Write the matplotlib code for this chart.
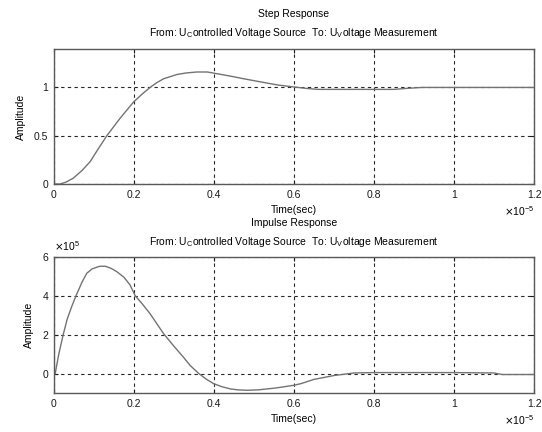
import matplotlib
matplotlib.use("Agg")
import matplotlib.pyplot as plt
from matplotlib.ticker import FormatStrFormatter

plt.rcParams['font.family'] = ['Liberation Sans', 'DejaVu Sans']
plt.rcParams['font.size'] = 7.5

# time axis in units of 1e-5 s
step_t = [0, 0.015, 0.03, 0.048, 0.07, 0.09, 0.11, 0.132, 0.165, 0.199, 0.22,
          0.24, 0.257, 0.274, 0.307, 0.33, 0.357, 0.383, 0.424, 0.45, 0.474,
          0.5, 0.533, 0.56, 0.59, 0.63, 0.66, 0.75, 0.85, 0.88, 0.92, 1.0, 1.2]
step_v = [0, 0.0, 0.02, 0.06, 0.14, 0.23, 0.36, 0.5, 0.68, 0.85, 0.93,
          1.0, 1.05, 1.09, 1.134, 1.15, 1.16, 1.16, 1.13, 1.11, 1.09,
          1.07, 1.045, 1.025, 1.01, 0.99, 0.98, 0.98, 0.98, 0.99, 1.0, 1.0, 1.0]

# impulse amplitude in units of 1e5
imp_t = [0, 0.003, 0.012, 0.023, 0.033, 0.044, 0.055, 0.07, 0.082, 0.095,
         0.107, 0.115, 0.128, 0.142, 0.157, 0.175, 0.19, 0.203, 0.22, 0.24,
         0.274, 0.3, 0.324, 0.34, 0.362, 0.38, 0.399, 0.42, 0.441, 0.46,
         0.483, 0.51, 0.533, 0.555, 0.575, 0.6, 0.617, 0.65, 0.7, 0.75, 0.8,
         1.0, 1.1, 1.12, 1.2]
imp_v = [0, 0, 1.0, 2.0, 2.8, 3.43, 4.0, 4.7, 5.16, 5.38,
         5.47, 5.52, 5.52, 5.42, 5.24, 4.95, 4.56, 4.0, 3.6, 3.08,
         2.05, 1.4, 0.83, 0.42, 0.0, -0.28, -0.52, -0.68, -0.79, -0.84,
         -0.86, -0.84, -0.79, -0.74, -0.68, -0.6, -0.52, -0.3, -0.1, 0.03, 0.05,
         0.05, 0.03, -0.05, -0.05]

xticks = [0, 0.2, 0.4, 0.6, 0.8, 1, 1.2]
subtitle = "From: U$_{\\mathregular{C}}$ontrolled Voltage Source  To: U$_{\\mathregular{V}}$oltage Measurement"

fig = plt.figure(figsize=(5.42, 4.32), dpi=100)
ax1 = fig.add_axes([0.0996, 0.574, 0.886, 0.313])
ax2 = fig.add_axes([0.0996, 0.0903, 0.886, 0.315])


def style(ax):
    ax.set_xlim(0, 1.2)
    ax.set_xticks(xticks)
    ax.xaxis.set_major_formatter(FormatStrFormatter('%g'))
    ax.yaxis.set_major_formatter(FormatStrFormatter('%g'))
    ax.grid(True, color='0.15', linestyle=(0, (3, 3)), linewidth=0.8)
    ax.tick_params(direction='in', length=3, top=True, right=True,
                   pad=4, colors='0.1')
    for s in ax.spines.values():
        s.set_color('0.35')
        s.set_linewidth(1.0)
    ax.set_xlabel('Time(sec)', labelpad=4)
    ax.set_ylabel('Amplitude', labelpad=6)
    ax.text(1.0, -0.2, '$\\times\\mathregular{10^{-5}}$', transform=ax.transAxes,
            ha='right', va='center')


ax1.plot(step_t, step_v, color='0.45', linewidth=1.0)
style(ax1)
ax1.set_ylim(0, 1.4)
ax1.set_yticks([0, 0.5, 1])
fig.text(0.542, 0.968, 'Step Response', ha='center', va='center')
fig.text(0.542, 0.924, subtitle, ha='center', va='center')

ax2.plot(imp_t, imp_v, color='0.45', linewidth=1.0)
style(ax2)
ax2.set_ylim(-1, 6)
ax2.set_yticks([0, 2, 4, 6])
ax2.text(0.0, 1.03, '$\\times\\mathregular{10^{5}}$', transform=ax2.transAxes,
         ha='left', va='bottom')
fig.text(0.542, 0.484, 'Impulse Response', ha='center', va='center')
fig.text(0.542, 0.44, subtitle, ha='center', va='center')

fig.savefig('out.png', dpi=100)
